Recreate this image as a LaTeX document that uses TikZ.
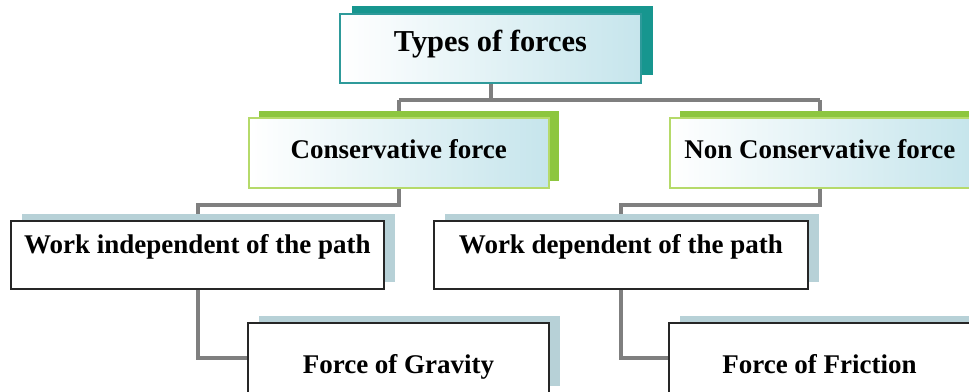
\documentclass[tikz,border=0pt]{standalone}
\usepackage{fontspec}
\setmainfont{Liberation Serif}
\usetikzlibrary{shadows,backgrounds}
\definecolor{tealshade}{HTML}{17968F}
\definecolor{tealline}{HTML}{2E9A9A}
\definecolor{limeshade}{HTML}{8DC63F}
\definecolor{limeline}{HTML}{B5DA6A}
\definecolor{paleblue}{HTML}{C6E5EC}
\definecolor{greyshade}{HTML}{B7D1D7}
\definecolor{linkgrey}{HTML}{7F7F7F}
\tikzset{
  boxbase/.style={anchor=north west, inner sep=0pt, align=center, font=\bfseries\fontsize{13.5}{16}\selectfont},
  headbox/.style={boxbase, draw=tealline, line width=1pt, left color=white, right color=paleblue,
    general shadow={shadow xshift=6pt, shadow yshift=4pt, fill=tealshade},
    font=\bfseries\fontsize{15.2}{18}\selectfont, text height=18.5pt, text depth=16pt},
  kindbox/.style={boxbase, draw=limeline, line width=0.8pt, left color=white, right color=paleblue,
    general shadow={shadow xshift=5pt, shadow yshift=3.5pt, fill=limeshade},
    text height=20.5pt, text depth=14.5pt},
  workbox/.style={boxbase, draw=black!85, line width=1pt, fill=white,
    general shadow={shadow xshift=5.5pt, shadow yshift=3.5pt, fill=greyshade},
    text height=16pt, text depth=18pt},
  forcebox/.style={workbox, text height=25pt, text depth=10pt},
  link/.style={draw=linkgrey, line width=2pt}
}
\begin{document}
\begin{tikzpicture}[x=0.5pt, y=-0.5pt]
  \useasboundingbox (0,0) rectangle (969,391);
  \clip (0,0) rectangle (969,391);
  % boxes
  \node[headbox, minimum width=150.5pt] (types) at (339,13) {Types of forces};
  \node[kindbox, minimum width=150pt] (cons) at (248,117) {Conservative force};
  \node[kindbox, minimum width=150pt] (noncons) at (669,117) {Non Conservative force};
  \node[workbox, minimum width=186.5pt] (indep) at (10,220) {Work independent of the path};
  \node[workbox, minimum width=187pt] (dep) at (433,220) {Work dependent of the path};
  \node[forcebox, minimum width=150.5pt] (gravity) at (247,322) {Force of Gravity};
  \node[forcebox, minimum width=150.5pt] (friction) at (668,322) {Force of Friction};
  % connectors
  \begin{scope}[on background layer]
    \draw[link] (types.south) -- ++(0,16) coordinate (split)
      (split -| cons.north) -- (split -| noncons.north);
    \draw[link] (split -| cons.north) -- (cons.north);
    \draw[link] (split -| noncons.north) -- (noncons.north);
    \draw[link] (cons.south) -- ++(0,16) -| (indep.north);
    \draw[link] (noncons.south) -- ++(0,16) -| (dep.north);
    \draw[link] (indep.south) |- (gravity.west);
    \draw[link] (dep.south) |- (friction.west);
  \end{scope}
\end{tikzpicture}
\end{document}
